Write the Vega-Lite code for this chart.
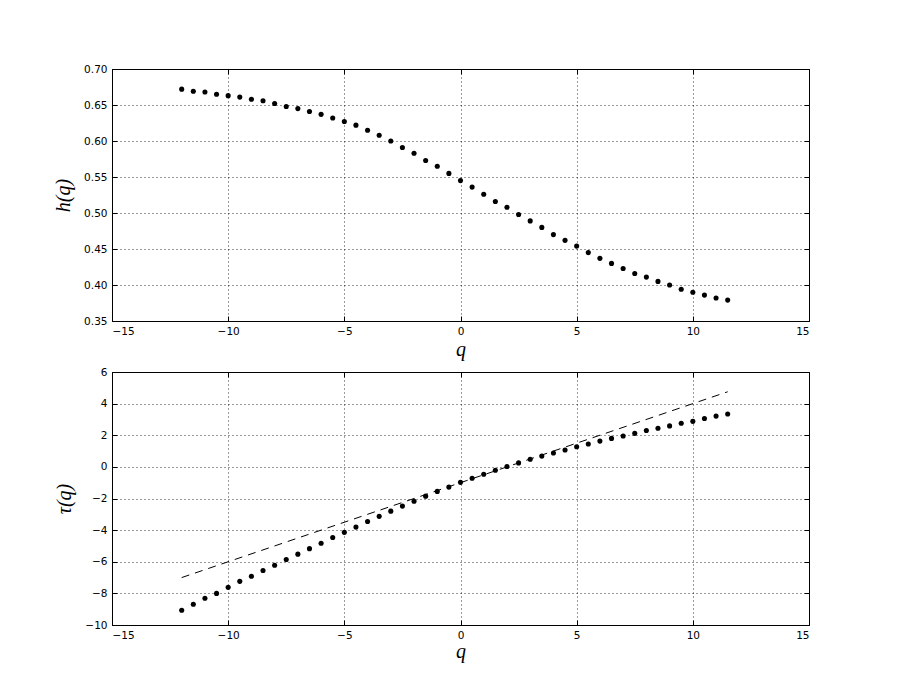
{
  "$schema": "https://vega.github.io/schema/vega-lite/v6.json",
  "background": "white",
  "padding": {"left": 53, "top": 63, "right": 5, "bottom": 5},
  "datasets": {
    "h": [
      {"q": -12, "h": 0.672, "tau": -9.07},
      {"q": -11.5, "h": 0.669, "tau": -8.69},
      {"q": -11, "h": 0.668, "tau": -8.31},
      {"q": -10.5, "h": 0.665, "tau": -8.0},
      {"q": -10, "h": 0.663, "tau": -7.62},
      {"q": -9.5, "h": 0.661, "tau": -7.24},
      {"q": -9, "h": 0.658, "tau": -6.92},
      {"q": -8.5, "h": 0.656, "tau": -6.55},
      {"q": -8, "h": 0.652, "tau": -6.22},
      {"q": -7.5, "h": 0.648, "tau": -5.86},
      {"q": -7, "h": 0.645, "tau": -5.52},
      {"q": -6.5, "h": 0.641, "tau": -5.17},
      {"q": -6, "h": 0.637, "tau": -4.83},
      {"q": -5.5, "h": 0.632, "tau": -4.47},
      {"q": -5, "h": 0.627, "tau": -4.14},
      {"q": -4.5, "h": 0.622, "tau": -3.81},
      {"q": -4, "h": 0.615, "tau": -3.45},
      {"q": -3.5, "h": 0.608, "tau": -3.13},
      {"q": -3, "h": 0.6, "tau": -2.8},
      {"q": -2.5, "h": 0.591, "tau": -2.48},
      {"q": -2, "h": 0.583, "tau": -2.17},
      {"q": -1.5, "h": 0.573, "tau": -1.85},
      {"q": -1, "h": 0.565, "tau": -1.55},
      {"q": -0.5, "h": 0.555, "tau": -1.28},
      {"q": 0, "h": 0.545, "tau": -0.98},
      {"q": 0.5, "h": 0.536, "tau": -0.72},
      {"q": 1, "h": 0.526, "tau": -0.47},
      {"q": 1.5, "h": 0.516, "tau": -0.21},
      {"q": 2, "h": 0.508, "tau": 0.02},
      {"q": 2.5, "h": 0.498, "tau": 0.25},
      {"q": 3, "h": 0.489, "tau": 0.48},
      {"q": 3.5, "h": 0.48, "tau": 0.68},
      {"q": 4, "h": 0.47, "tau": 0.88},
      {"q": 4.5, "h": 0.462, "tau": 1.07},
      {"q": 5, "h": 0.454, "tau": 1.27},
      {"q": 5.5, "h": 0.445, "tau": 1.45},
      {"q": 6, "h": 0.437, "tau": 1.63},
      {"q": 6.5, "h": 0.43, "tau": 1.8},
      {"q": 7, "h": 0.423, "tau": 1.95},
      {"q": 7.5, "h": 0.416, "tau": 2.12},
      {"q": 8, "h": 0.411, "tau": 2.3},
      {"q": 8.5, "h": 0.405, "tau": 2.44},
      {"q": 9, "h": 0.4, "tau": 2.59},
      {"q": 9.5, "h": 0.394, "tau": 2.76},
      {"q": 10, "h": 0.39, "tau": 2.88},
      {"q": 10.5, "h": 0.386, "tau": 3.06},
      {"q": 11, "h": 0.382, "tau": 3.21},
      {"q": 11.5, "h": 0.379, "tau": 3.34}
    ],
    "ref": [
      {"q": -12, "tau": -7.0},
      {"q": 11.5, "tau": 4.75}
    ]
  },
  "vconcat": [
    {
      "width": 697,
      "height": 252,
      "layer": [
        {
          "data": {"name": "h"},
          "mark": {"type": "circle", "color": "#000", "size": 26, "opacity": 1},
          "encoding": {
            "x": {"field": "q", "type": "quantitative",
              "scale": {"domain": [-15, 15], "nice": false, "zero": false},
              "axis": {"values": [-15, -10, -5, 0, 5, 10, 15], "title": "q", "titlePadding": 3}},
            "y": {"field": "h", "type": "quantitative",
              "scale": {"domain": [0.35, 0.7], "nice": false, "zero": false},
              "axis": {"values": [0.35, 0.4, 0.45, 0.5, 0.55, 0.6, 0.65, 0.7], "format": ".2f", "title": "h(q)", "titlePadding": 10}}
          }
        },
        {
          "data": {"name": "h"},
          "mark": {"type": "circle", "opacity": 0},
          "encoding": {
            "x": {"field": "q", "type": "quantitative",
              "axis": {"orient": "top", "values": [-15, -10, -5, 0, 5, 10, 15], "labels": false, "grid": false, "title": null}},
            "y": {"field": "h", "type": "quantitative",
              "axis": {"orient": "right", "values": [0.35, 0.4, 0.45, 0.5, 0.55, 0.6, 0.65, 0.7], "labels": false, "grid": false, "title": null}}
          }
        }
      ],
      "resolve": {"axis": {"x": "independent", "y": "independent"}}
    },
    {
      "width": 697,
      "height": 253,
      "layer": [
        {
          "data": {"name": "ref"},
          "mark": {"type": "line", "color": "#000", "strokeWidth": 1, "strokeDash": [8, 6]},
          "encoding": {
            "x": {"field": "q", "type": "quantitative",
              "scale": {"domain": [-15, 15], "nice": false, "zero": false},
              "axis": {"values": [-15, -10, -5, 0, 5, 10, 15], "title": "q", "titlePadding": 1}},
            "y": {"field": "tau", "type": "quantitative",
              "scale": {"domain": [-10, 6], "nice": false, "zero": false},
              "axis": {"values": [-10, -8, -6, -4, -2, 0, 2, 4, 6], "title": "τ(q)", "titlePadding": 10}}
          }
        },
        {
          "data": {"name": "h"},
          "mark": {"type": "circle", "color": "#000", "size": 26, "opacity": 1},
          "encoding": {
            "x": {"field": "q", "type": "quantitative", "axis": null},
            "y": {"field": "tau", "type": "quantitative", "axis": null}
          }
        },
        {
          "data": {"name": "h"},
          "mark": {"type": "circle", "opacity": 0},
          "encoding": {
            "x": {"field": "q", "type": "quantitative",
              "axis": {"orient": "top", "values": [-15, -10, -5, 0, 5, 10, 15], "labels": false, "grid": false, "title": null}},
            "y": {"field": "tau", "type": "quantitative",
              "axis": {"orient": "right", "values": [-10, -8, -6, -4, -2, 0, 2, 4, 6], "labels": false, "grid": false, "title": null}}
          }
        }
      ],
      "resolve": {"axis": {"x": "independent", "y": "independent"}}
    }
  ],
  "spacing": 51,
  "bounds": "flush",
  "config": {
    "view": {"stroke": "#000", "strokeWidth": 1},
    "axis": {
      "domain": false,
      "grid": true,
      "gridColor": "#000",
      "gridDash": [1, 3],
      "gridWidth": 0.8,
      "gridOpacity": 1,
      "ticks": true,
      "tickColor": "#000",
      "tickSize": -5,
      "tickWidth": 1,
      "labelFont": "DejaVu Sans",
      "labelFontSize": 10.5,
      "labelColor": "#000",
      "labelPadding": 10,
      "titleFont": "Liberation Serif",
      "titleFontStyle": "italic",
      "titleFontWeight": "normal",
      "titleFontSize": 20,
      "titleColor": "#000"
    }
  }
}
